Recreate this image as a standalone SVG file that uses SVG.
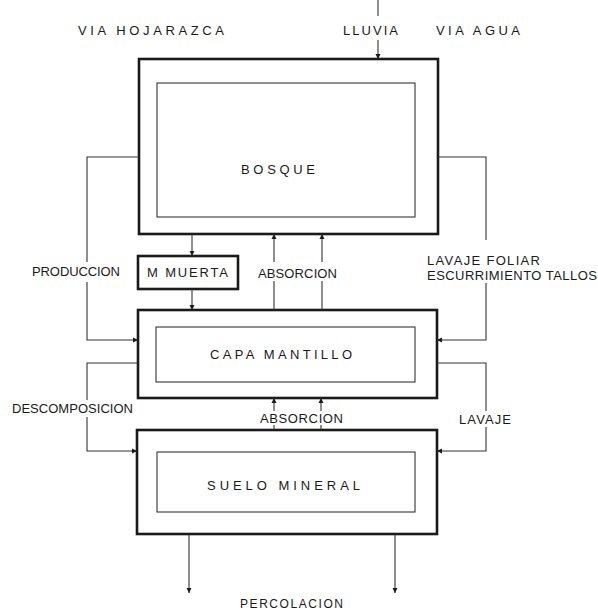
<svg xmlns="http://www.w3.org/2000/svg" width="598" height="611" viewBox="0 0 598 611">
<defs>
<style>
.outer{fill:none;stroke:#1a1a1a;stroke-width:2.6}
.inner{fill:none;stroke:#333;stroke-width:1.1}
.lbl{font-family:"Liberation Sans",Arial,sans-serif;font-size:13px;fill:#1a1a1a}
.ctr{text-anchor:middle}
.cn{fill:none;stroke:#333;stroke-width:1.1}
.ar{marker-end:url(#ah)}
</style>
<marker id="ah" markerWidth="6" markerHeight="6" refX="5" refY="3" orient="auto" markerUnits="userSpaceOnUse">
<path d="M0,0.5 L5,3 L0,5.5 z" fill="#1a1a1a"/>
</marker>
</defs>
<rect width="598" height="611" fill="#ffffff"/>

<g id="titles">
<text class="lbl" x="78" y="35" textLength="146" lengthAdjust="spacing">VIA  HOJARAZCA</text>
<text class="lbl" x="343" y="35" textLength="55" lengthAdjust="spacing">LLUVIA</text>
<text class="lbl" x="436" y="35" textLength="84" lengthAdjust="spacing">VIA  AGUA</text>
</g>

<g id="bosque">
<rect class="outer" x="139" y="59" width="299" height="175"/>
<rect class="inner" x="157" y="83" width="258" height="134"/>
<text class="lbl" x="241" y="174" textLength="74" lengthAdjust="spacing">BOSQUE</text>
</g>

<g id="m-muerta">
<rect class="outer" x="138" y="256" width="100" height="33"/>
<text class="lbl" x="147" y="277" textLength="81" lengthAdjust="spacing">M MUERTA</text>
</g>

<g id="capa-mantillo">
<rect class="outer" x="138" y="310" width="299" height="88"/>
<rect class="inner" x="156" y="327" width="259" height="55"/>
<text class="lbl" x="210" y="359" textLength="142" lengthAdjust="spacing">CAPA  MANTILLO</text>
</g>

<g id="suelo-mineral">
<rect class="outer" x="137" y="430" width="300" height="104"/>
<rect class="inner" x="157" y="452" width="258" height="60"/>
<text class="lbl" x="207" y="490" textLength="153" lengthAdjust="spacing">SUELO  MINERAL</text>
</g>

<g id="connectors">
<path class="cn" d="M378,0 V16"/>
<path class="cn ar" d="M378,40 V59"/>
<path class="cn" d="M139,157 H87 V262"/>
<path class="cn ar" d="M87,282 V340 H138"/>
<path class="cn ar" d="M192,234 V256"/>
<path class="cn ar" d="M192,289 V310"/>
<path class="cn" d="M274,310 V281"/>
<path class="cn ar" d="M274,262 V234"/>
<path class="cn" d="M322,310 V281"/>
<path class="cn ar" d="M322,262 V234"/>
<path class="cn" d="M438,157 H486 V240"/>
<path class="cn ar" d="M486,283 V340 H437"/>
<path class="cn" d="M138,363 H87 V400"/>
<path class="cn ar" d="M87,417 V451 H137"/>
<path class="cn" d="M437,363 H486 V411"/>
<path class="cn ar" d="M486,427 V451 H437"/>
<path class="cn" d="M274,430 V425"/>
<path class="cn ar" d="M274,411 V398"/>
<path class="cn" d="M321,430 V425"/>
<path class="cn ar" d="M321,411 V398"/>
<path class="cn ar" d="M189,534 V593"/>
<path class="cn ar" d="M395,534 V593"/>
</g>

<g id="labels">
<text class="lbl" x="32" y="276" textLength="88" lengthAdjust="spacing">PRODUCCION</text>
<text class="lbl" x="258" y="278" textLength="79" lengthAdjust="spacing">ABSORCION</text>
<text class="lbl" x="427" y="265" textLength="113" lengthAdjust="spacing">LAVAJE  FOLIAR</text>
<text class="lbl" x="427" y="280" textLength="170" lengthAdjust="spacing">ESCURRIMIENTO TALLOS</text>
<text class="lbl" x="12" y="413" textLength="121" lengthAdjust="spacing">DESCOMPOSICION</text>
<text class="lbl" x="260" y="423" textLength="83" lengthAdjust="spacing">ABSORCION</text>
<text class="lbl" x="459" y="424" textLength="52" lengthAdjust="spacing">LAVAJE</text>
<text class="lbl" x="240" y="608" textLength="103" lengthAdjust="spacing" style="font-size:12px">PERCOLACION</text>
</g>
</svg>
